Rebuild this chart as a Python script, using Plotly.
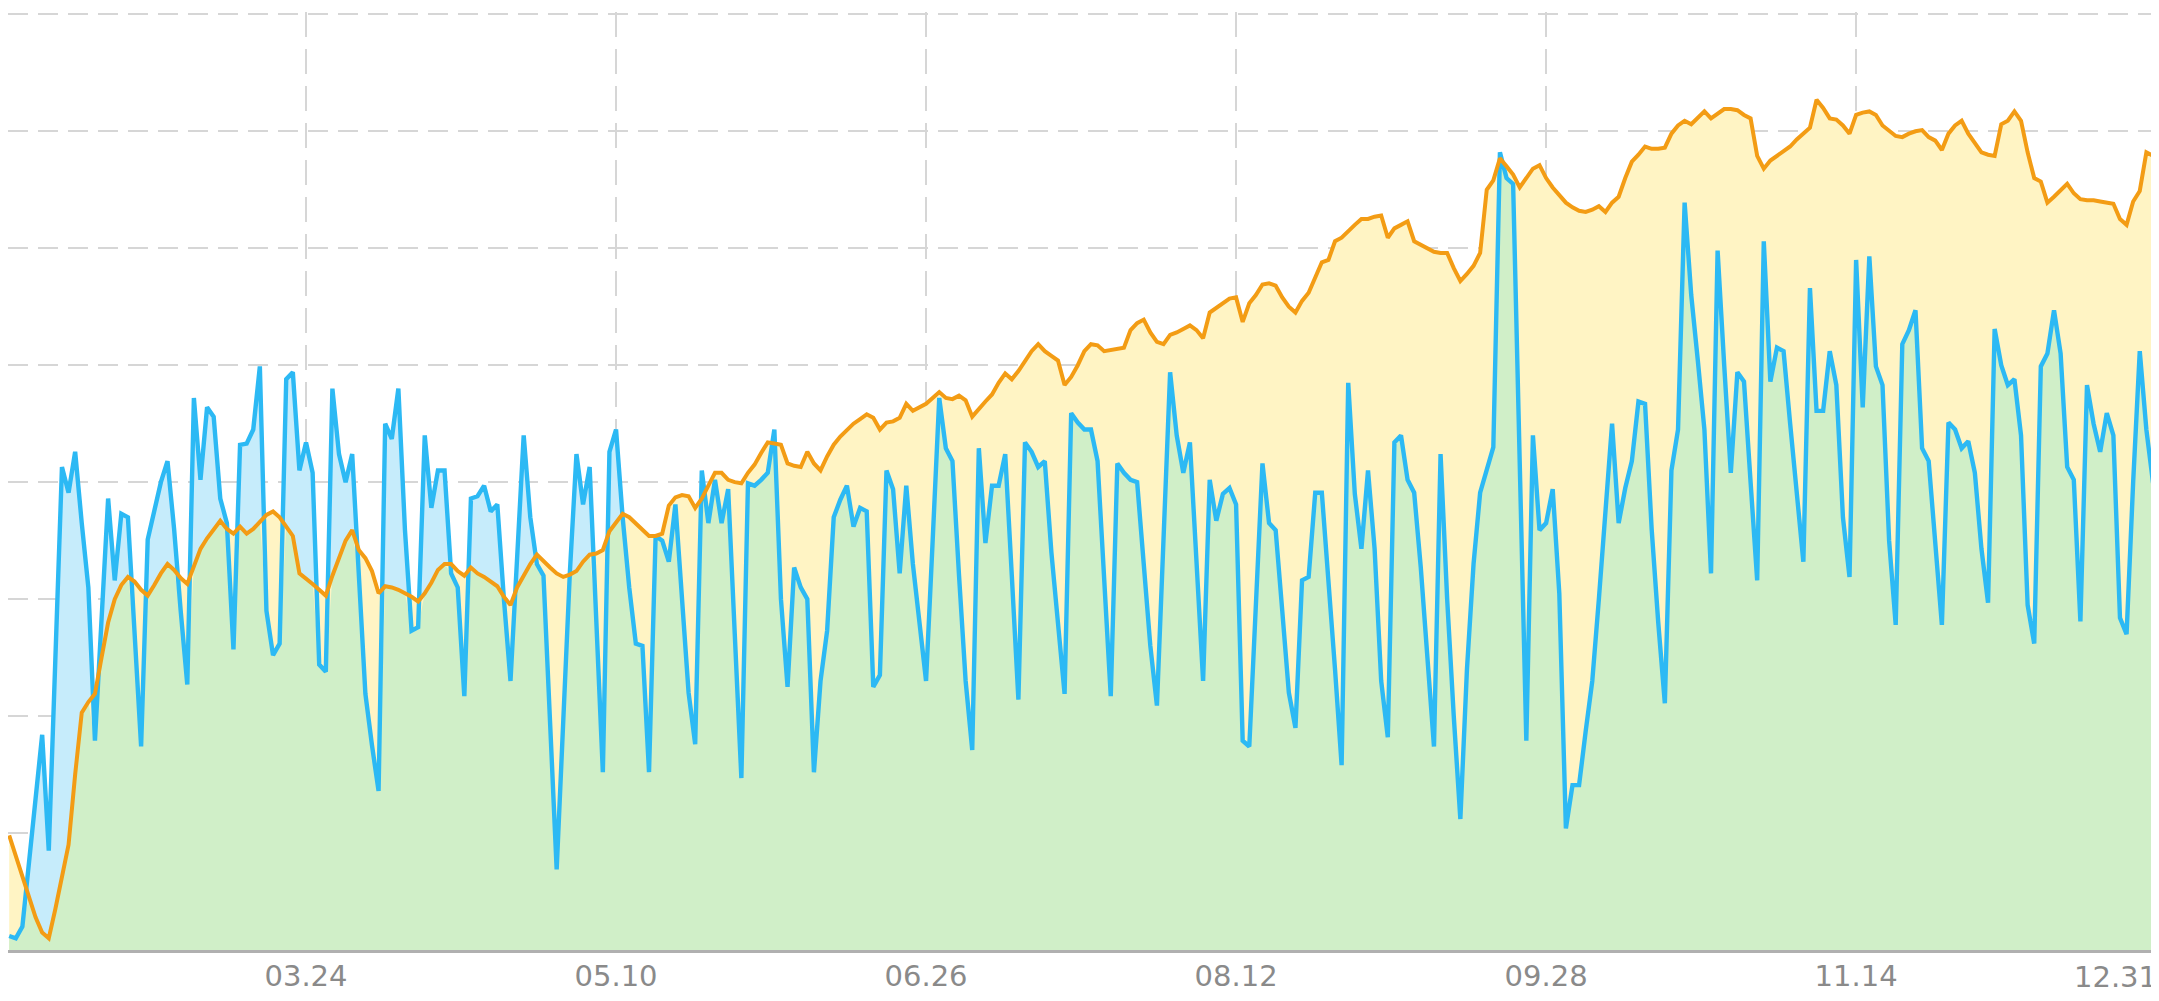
import numpy as np
import pandas as pd
import plotly.graph_objects as go

# daily values, starting 02.07
start_date = '2019-02-07'

blue = [
    0.12, 0.10, 0.20, 0.75, 1.30, 1.84, 0.85, 2.50, 4.13, 3.91,
    4.26, 3.65, 3.10, 1.79, 2.85, 3.86, 3.16, 3.73, 3.70, 2.70,
    1.74, 3.51, 3.75, 4.00, 4.18, 3.60, 2.90, 2.27, 4.72, 4.02,
    4.64, 4.56, 3.86, 3.65, 2.57, 4.32, 4.33, 4.45, 4.99, 2.90,
    2.52, 2.62, 4.88, 4.94, 4.10, 4.34, 4.08, 2.44, 2.38, 4.80,
    4.24, 4.00, 4.24, 3.20, 2.19, 1.75, 1.36, 4.50, 4.37, 4.80,
    3.59, 2.73, 2.76, 4.40, 3.78, 4.10, 4.10, 3.22, 3.10, 2.17,
    3.86, 3.88, 3.97, 3.75, 3.81, 3.00, 2.30, 3.35, 4.40, 3.70,
    3.30, 3.20, 1.90, 0.69, 1.96, 3.23, 4.24, 3.81, 4.13, 2.80,
    1.52, 4.26, 4.45, 3.70, 3.10, 2.62, 2.60, 1.52, 3.54, 3.50,
    3.32, 3.81, 3.00, 2.20, 1.76, 4.10, 3.65, 4.02, 3.65, 3.94,
    2.70, 1.47, 3.99, 3.97, 4.02, 4.08, 4.45, 3.00, 2.25, 3.27,
    3.10, 3.00, 1.52, 2.30, 2.73, 3.70, 3.85, 3.97, 3.62, 3.78,
    3.75, 2.25, 2.35, 4.10, 3.94, 3.22, 3.97, 3.30, 2.80, 2.30,
    3.50, 4.72, 4.29, 4.18, 3.20, 2.30, 1.71, 4.29, 3.48, 3.97,
    3.97, 4.24, 3.20, 2.14, 4.34, 4.26, 4.13, 4.18, 3.40, 2.80,
    2.19, 4.59, 4.51, 4.45, 4.45, 4.18, 3.20, 2.17, 4.16, 4.08,
    4.02, 4.00, 3.30, 2.60, 2.09, 3.50, 4.94, 4.40, 4.08, 4.34,
    3.30, 2.30, 4.02, 3.67, 3.90, 3.95, 3.81, 1.79, 1.74, 3.00,
    4.16, 3.65, 3.59, 2.90, 2.20, 1.90, 3.16, 3.19, 3.91, 3.91,
    3.20, 2.40, 1.58, 4.85, 3.90, 3.43, 4.10, 3.43, 2.30, 1.82,
    4.34, 4.40, 4.02, 3.91, 3.27, 2.50, 1.74, 4.24, 3.00, 2.00,
    1.12, 2.40, 3.30, 3.91, 4.10, 4.30, 6.82, 6.60, 6.55, 4.10,
    1.79, 4.40, 3.59, 3.65, 3.94, 3.05, 1.04, 1.41, 1.41, 1.87,
    2.30, 3.00, 3.75, 4.50, 3.65, 3.95, 4.18, 4.69, 4.67, 3.60,
    2.80, 2.11, 4.10, 4.45, 6.39, 5.60, 5.04, 4.45, 3.22, 5.98,
    5.00, 4.08, 4.94, 4.86, 4.00, 3.16, 6.06, 4.86, 5.15, 5.12,
    4.50, 3.90, 3.32, 5.66, 4.61, 4.61, 5.12, 4.83, 3.70, 3.19,
    5.90, 4.64, 5.93, 4.99, 4.83, 3.50, 2.78, 5.18, 5.30, 5.47,
    4.29, 4.18, 3.50, 2.78, 4.51, 4.45, 4.29, 4.35, 4.08, 3.43,
    2.97, 5.31, 5.00, 4.83, 4.88, 4.40, 2.95, 2.62, 4.99, 5.10,
    5.47, 5.10, 4.13, 4.02, 2.81, 4.83, 4.50, 4.26, 4.59, 4.40,
    2.84, 2.70, 4.00, 5.12, 4.45, 4.00, 3.70,
]

orange = [
    0.98, 0.80, 0.63, 0.45, 0.28, 0.15, 0.10, 0.35, 0.62, 0.90,
    1.50, 2.03, 2.12, 2.19, 2.50, 2.80, 3.00, 3.12, 3.19, 3.15,
    3.08, 3.03, 3.12, 3.22, 3.30, 3.25, 3.18, 3.13, 3.28, 3.43,
    3.52, 3.60, 3.67, 3.60, 3.56, 3.62, 3.56, 3.60, 3.66, 3.72,
    3.75, 3.70, 3.62, 3.54, 3.22, 3.18, 3.13, 3.08, 3.03, 3.20,
    3.35, 3.50, 3.59, 3.42, 3.35, 3.24, 3.05, 3.11, 3.10, 3.08,
    3.05, 3.02, 2.98, 3.05, 3.14, 3.25, 3.30, 3.30, 3.24, 3.20,
    3.27, 3.22, 3.19, 3.15, 3.11, 3.02, 2.95, 3.10, 3.20, 3.30,
    3.38, 3.32, 3.27, 3.22, 3.19, 3.21, 3.24, 3.32, 3.38, 3.39,
    3.42, 3.58, 3.66, 3.73, 3.70, 3.65, 3.60, 3.54, 3.54, 3.56,
    3.80, 3.87, 3.89, 3.88, 3.78, 3.86, 3.97, 4.08, 4.08, 4.02,
    4.00, 3.99, 4.08, 4.15, 4.25, 4.34, 4.33, 4.32, 4.16, 4.14,
    4.13, 4.26, 4.16, 4.10, 4.22, 4.32, 4.39, 4.45, 4.50, 4.54,
    4.58, 4.55, 4.45, 4.51, 4.52, 4.55, 4.67, 4.61, 4.64, 4.67,
    4.72, 4.77, 4.72, 4.71, 4.74, 4.70, 4.56, 4.63, 4.69, 4.75,
    4.85, 4.93, 4.88, 4.95, 5.03, 5.12, 5.18, 5.12, 5.08, 5.04,
    4.83, 4.90, 5.00, 5.12, 5.18, 5.17, 5.12, 5.13, 5.14, 5.15,
    5.30, 5.36, 5.39, 5.28, 5.20, 5.18, 5.26, 5.28, 5.31, 5.34,
    5.30, 5.23, 5.45, 5.49, 5.54, 5.57, 5.58, 5.37, 5.53, 5.60,
    5.69, 5.70, 5.68, 5.58, 5.50, 5.45, 5.55, 5.62, 5.75, 5.88,
    5.90, 6.06, 6.09, 6.15, 6.20, 6.25, 6.25, 6.27, 6.28, 6.09,
    6.17, 6.20, 6.23, 6.06, 6.03, 6.00, 5.97, 5.96, 5.96, 5.83,
    5.72, 5.78, 5.85, 5.96, 6.50, 6.58, 6.77, 6.70, 6.63, 6.52,
    6.60, 6.68, 6.71, 6.60, 6.52, 6.45, 6.39, 6.35, 6.32, 6.31,
    6.33, 6.36, 6.31, 6.39, 6.44, 6.60, 6.74, 6.80, 6.87, 6.85,
    6.85, 6.86, 6.98, 7.05, 7.09, 7.06, 7.12, 7.17, 7.11, 7.15,
    7.19, 7.19, 7.18, 7.14, 7.11, 6.79, 6.68, 6.75, 6.79, 6.83,
    6.87, 6.93, 6.98, 7.03, 7.27, 7.20, 7.11, 7.10, 7.05, 6.98,
    7.14, 7.16, 7.17, 7.14, 7.05, 7.01, 6.96, 6.95, 6.98, 7.00,
    7.01, 6.95, 6.92, 6.84, 6.98, 7.05, 7.09, 6.98, 6.90, 6.82,
    6.80, 6.79, 7.06, 7.09, 7.17, 7.09, 6.82, 6.60, 6.57, 6.39,
    6.44, 6.50, 6.55, 6.47, 6.42, 6.41, 6.41, 6.40, 6.39, 6.38,
    6.25, 6.20, 6.40, 6.49, 6.82, 6.79, 6.74,
]

tick_dates = ['2019-03-24', '2019-05-10', '2019-06-26', '2019-08-12', '2019-09-28', '2019-11-14']
tick_labels = ['03.24', '05.10', '06.26', '08.12', '09.28', '11.14']
last_label = '12.31'

dates = pd.date_range(start_date, periods=len(blue), freq='D')
both = np.minimum(blue, orange)

fig = go.Figure()
# area fills: light blue under blue, yellow under orange, green where they overlap
fig.add_trace(go.Scatter(x=dates, y=blue, mode='lines', line=dict(width=0),
                         fill='tozeroy', fillcolor='#c6ecfb', hoverinfo='skip'))
fig.add_trace(go.Scatter(x=dates, y=orange, mode='lines', line=dict(width=0),
                         fill='tozeroy', fillcolor='#fff4c4', hoverinfo='skip'))
fig.add_trace(go.Scatter(x=dates, y=both, mode='lines', line=dict(width=0),
                         fill='tozeroy', fillcolor='#d0efc8', hoverinfo='skip'))
fig.add_trace(go.Scatter(x=dates, y=blue, mode='lines',
                         line=dict(color='#2cb9f4', width=4.4)))
fig.add_trace(go.Scatter(x=dates, y=orange, mode='lines',
                         line=dict(color='#f39c14', width=4)))

# page body keeps its 8px margin, so the figure is sized to fit inside the window
fig.update_layout(
    width=2151, height=985,
    margin=dict(l=0, r=0, t=4, b=31),
    paper_bgcolor='white', plot_bgcolor='white',
    showlegend=False,
    font=dict(family='DejaVu Sans', color='#8a8a8a', size=29),
)
fig.update_xaxes(
    range=['2019-02-06 19:40', '2019-12-29 22:00'],
    tickvals=tick_dates, ticktext=tick_labels,
    showgrid=True, gridcolor='#d6d6d6', gridwidth=2, griddash='25px,12px',
    showline=True, linecolor='#b0b0b0', linewidth=3,
    ticks='', zeroline=False, ticklabelstandoff=-2,
    tickfont=dict(family='DejaVu Sans', size=29, color='#8a8a8a'),
)
fig.update_yaxes(
    range=[0, 8.02], dtick=1,
    showgrid=True, gridcolor='#d6d6d6', gridwidth=2, griddash='20px,10px',
    showline=True, linecolor='#b0b0b0', linewidth=3,
    showticklabels=False, ticks='', zeroline=False,
)
fig.add_annotation(text=last_label, xref='paper', yref='paper', x=1, y=0,
                   xanchor='right', yanchor='top', yshift=-8, showarrow=False,
                   font=dict(family='DejaVu Sans', size=29, color='#8a8a8a'))

fig.write_html('out.html')
